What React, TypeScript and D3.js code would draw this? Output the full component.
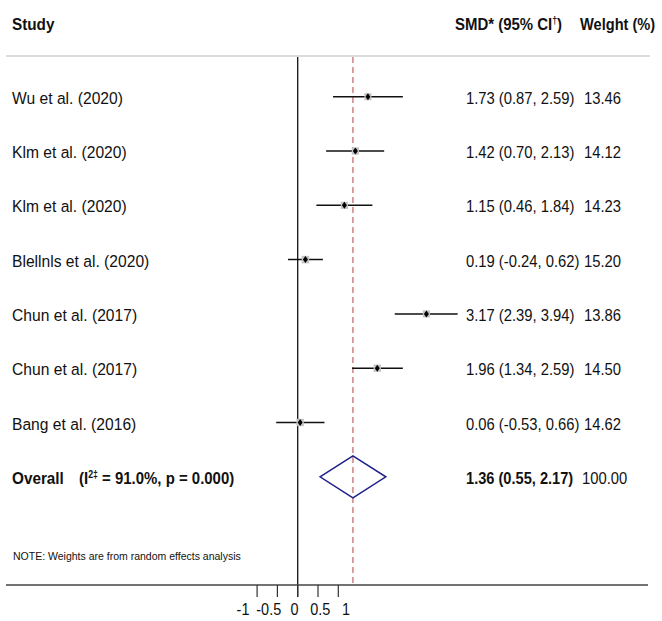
import React, { useRef, useEffect } from "react";
import * as d3 from "d3";

const width = 662;
const height = 621;

const studies = [
  "Wu et al. (2020)",
  "Klm et al. (2020)",
  "Klm et al. (2020)",
  "Blellnls et al. (2020)",
  "Chun et al. (2017)",
  "Chun et al. (2017)",
  "Bang et al. (2016)",
];
const smd = [1.73, 1.42, 1.15, 0.19, 3.17, 1.96, 0.06];
const lower = [0.87, 0.7, 0.46, -0.24, 2.39, 1.34, -0.53];
const upper = [2.59, 2.13, 1.84, 0.62, 3.94, 2.59, 0.66];
const weights = [13.46, 14.12, 14.23, 15.2, 13.86, 14.5, 14.62];
const overall = { est: 1.36, lo: 0.55, hi: 2.17, weight: 100 };
const ticks = [-1, -0.5, 0, 0.5, 1];

const font = "'Liberation Sans', Arial, sans-serif";

export default function ForestPlot() {
  const ref = useRef<SVGSVGElement | null>(null);

  useEffect(() => {
    const svg = d3.select(ref.current);
    svg.selectAll("*").remove();

    const x = d3.scaleLinear().domain([-1, 1]).range([257.1, 338.3]);
    // stata spreads the tick labels a little wider than the ticks
    const xLabel = d3.scaleLinear().domain([-1, 1]).range([243, 346]);
    const y = d3
      .scalePoint<number>()
      .domain(d3.range(studies.length + 1))
      .range([96.7, 476.8]);
    const box = d3.scaleSqrt().domain([0, 15.2]).range([0, 7.5]);

    const rows = studies.map((s, i) => ({
      study: s,
      est: smd[i],
      lo: lower[i],
      hi: upper[i],
      w: weights[i],
      i,
    }));

    const f2 = d3.format(".2f");
    const fmt = (v: number) => f2(v).replace("−", "-");

    // squeezed text helper (reference font is narrow)
    const txt = (
      tx: number,
      ty: number,
      size: number,
      sq: number,
      bold = false,
      anchor = "start"
    ) =>
      svg
        .append("text")
        .attr("transform", `translate(${tx},${ty}) scale(${sq},1)`)
        .attr("font-size", size)
        .attr("font-weight", bold ? "bold" : "normal")
        .attr("text-anchor", anchor);

    // header
    txt(12, 30, 17, 0.9, true).text("Study");
    const hdr = txt(455, 30, 17, 0.88, true);
    hdr.append("tspan").text("SMD* (95% CI");
    hdr.append("tspan").attr("dy", -6).attr("font-size", 10).text("†");
    hdr.append("tspan").attr("dy", 6).text(")");
    txt(580, 30, 17, 0.86, true).text("Welght (%)");

    // top rule
    svg
      .append("line")
      .attr("x1", 6)
      .attr("x2", 650)
      .attr("y1", 56)
      .attr("y2", 56)
      .attr("stroke", "#dcdcdc")
      .attr("stroke-width", 2);

    // zero line
    svg
      .append("line")
      .attr("x1", x(0))
      .attr("x2", x(0))
      .attr("y1", 57)
      .attr("y2", 597)
      .attr("stroke", "#111")
      .attr("stroke-width", 1.3);

    // overall effect line
    svg
      .append("line")
      .attr("x1", x(overall.est))
      .attr("x2", x(overall.est))
      .attr("y1", 57)
      .attr("y2", 585)
      .attr("stroke", "#c97a7a")
      .attr("stroke-width", 1.4)
      .attr("stroke-dasharray", "6,4");

    // CI lines
    svg
      .selectAll("line.ci")
      .data(rows)
      .enter()
      .append("line")
      .attr("class", "ci")
      .attr("x1", (d) => x(d.lo))
      .attr("x2", (d) => x(d.hi))
      .attr("y1", (d) => y(d.i)!)
      .attr("y2", (d) => y(d.i)!)
      .attr("stroke", "#111")
      .attr("stroke-width", 1.5);

    // weight boxes
    svg
      .selectAll("rect.box")
      .data(rows)
      .enter()
      .append("rect")
      .attr("class", "box")
      .attr("x", (d) => x(d.est) - box(d.w) / 2)
      .attr("y", (d) => y(d.i)! - box(d.w) / 2)
      .attr("width", (d) => box(d.w))
      .attr("height", (d) => box(d.w))
      .attr("fill", "#c4c4c4");

    // point markers
    svg
      .selectAll("path.pt")
      .data(rows)
      .enter()
      .append("path")
      .attr("class", "pt")
      .attr("d", (d) => {
        const cx = x(d.est);
        const cy = y(d.i)!;
        return `M${cx},${cy - 3.5}L${cx + 2.5},${cy}L${cx},${cy + 3.5}L${cx - 2.5},${cy}Z`;
      })
      .attr("fill", "#000");

    // row texts
    rows.forEach((d) => {
      const ty = y(d.i)! + 7;
      txt(12, ty, 17, 0.92).text(d.study);
      txt(466, ty, 17, 0.87).text(`${fmt(d.est)} (${fmt(d.lo)}, ${fmt(d.hi)})`);
      txt(584, ty, 17, 0.87).text(fmt(d.w));
    });

    // overall row
    const oy = y(studies.length)!;
    const dh = 21;
    svg
      .append("path")
      .attr(
        "d",
        `M${x(overall.lo)},${oy}L${x(overall.est)},${oy - dh}L${x(overall.hi)},${oy}L${x(overall.est)},${oy + dh}Z`
      )
      .attr("fill", "none")
      .attr("stroke", "#1f1f8a")
      .attr("stroke-width", 1.5);

    txt(12, oy + 7, 17, 0.9, true).text("Overall");
    const ol = txt(79, oy + 7, 17, 0.88, true);
    ol.append("tspan").text("(I");
    ol.append("tspan").attr("dy", -6).attr("font-size", 10).text("2‡");
    ol.append("tspan").attr("dy", 6).text(" = 91.0%, p = 0.000)");

    txt(466, oy + 7, 17, 0.86, true).text(
      `${fmt(overall.est)} (${fmt(overall.lo)}, ${fmt(overall.hi)})`
    );
    txt(582, oy + 7, 17, 0.87).text(fmt(overall.weight));

    // note
    svg
      .append("text")
      .attr("x", 13)
      .attr("y", 560)
      .attr("font-size", 10.5)
      .text("NOTE: Weights are from random effects analysis");

    // x axis
    svg
      .append("line")
      .attr("x1", 6)
      .attr("x2", 648)
      .attr("y1", 585)
      .attr("y2", 585)
      .attr("stroke", "#444")
      .attr("stroke-width", 1.5);

    svg
      .selectAll("line.tick")
      .data(ticks)
      .enter()
      .append("line")
      .attr("class", "tick")
      .attr("x1", (d) => x(d))
      .attr("x2", (d) => x(d))
      .attr("y1", 585)
      .attr("y2", 597)
      .attr("stroke", "#333")
      .attr("stroke-width", 1.2);

    ticks.forEach((t) => {
      txt(xLabel(t), 615, 17, 0.85, false, "middle").text(String(t));
    });
  }, []);

  return (
    <svg
      ref={ref}
      width={width}
      height={height}
      fontFamily={font}
      fill="#111"
      style={{ position: "absolute", left: 0, top: 0, background: "#fff" }}
    />
  );
}
